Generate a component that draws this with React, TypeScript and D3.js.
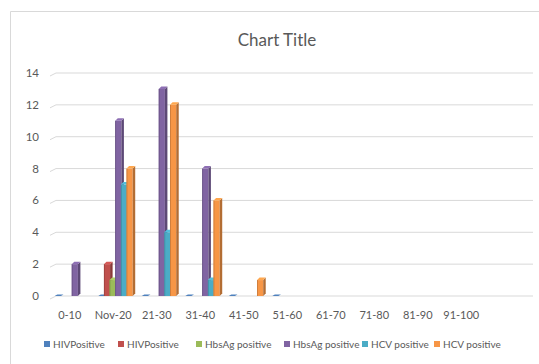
import React, { useEffect, useRef } from 'react';
import * as d3 from 'd3';

const categories = ['0-10', 'Nov-20', '21-30', '31-40', '41-50', '51-60', '61-70', '71-80', '81-90', '91-100'];
const seriesNames = ['HIVPositive', 'HIVPositive', 'HbsAg positive', 'HbsAg positive', 'HCV positive', 'HCV positive'];
const seriesColors = ['#4F81BD', '#C0504D', '#9BBB59', '#8064A2', '#4BACC6', '#F79646'];
const hivA = [0, 0, 0, 0, 0, 0, null, null, null, null];
const hivB = [null, 2, null, null, null, null, null, null, null, null];
const hbsA = [null, 1, null, null, null, null, null, null, null, null];
const hbsB = [2, 11, 13, 8, null, null, null, null, null, null];
const hcvA = [null, 7, 4, 1, null, null, null, null, null, null];
const hcvB = [null, 8, 12, 6, 1, null, null, null, null, null];
const yTicks = [0, 2, 4, 6, 8, 10, 12, 14];

const seriesValues = [hivA, hivB, hbsA, hbsB, hcvA, hcvB];

const App: React.FC = () => {
  const svgRef = useRef<SVGSVGElement>(null);

  useEffect(() => {
    document.body.style.margin = '0';
    if (!svgRef.current) return;
    const svg = d3.select(svgRef.current);
    svg.selectAll('*').remove();

    const width = 539;
    const height = 364;
    const font = 'Lato, "Open Sans", sans-serif';
    const textColor = '#595959';

    svg.append('rect')
      .attr('width', width).attr('height', height).attr('fill', '#fff');

    // chart frame (only left and top edges are visible)
    svg.append('path')
      .attr('d', `M10.5,${height} L10.5,11.5 L${width},11.5`)
      .attr('fill', 'none')
      .attr('stroke', '#d9d9d9');

    svg.append('text')
      .attr('x', 277).attr('y', 46)
      .attr('text-anchor', 'middle')
      .attr('font-family', font)
      .attr('font-size', 17)
      .attr('fill', textColor)
      .text('Chart Title');

    const x0 = d3.scaleBand<string>()
      .domain(categories)
      .range([48, 483])
      .paddingInner(0.22)
      .paddingOuter(0.11);

    const x1 = d3.scaleBand<number>()
      .domain(d3.range(seriesNames.length))
      .range([0, x0.bandwidth()]);

    const y = d3.scaleLinear().domain([0, 14]).range([296, 73]);

    // gridlines with a small 3D slant on the left
    svg.append('g')
      .selectAll('path')
      .data(yTicks)
      .join('path')
      .attr('d', d => `M50,${y(d) + 3} L56,${y(d)} L533,${y(d)}`)
      .attr('fill', 'none')
      .attr('stroke', '#d9d9d9')
      .attr('stroke-width', 1);

    svg.append('g')
      .selectAll('text')
      .data(yTicks)
      .join('text')
      .attr('x', 39)
      .attr('y', d => y(d) + 4)
      .attr('text-anchor', 'end')
      .attr('font-family', font)
      .attr('font-size', 11.5)
      .attr('fill', textColor)
      .text(d => d);

    const depth = 2.5;
    const bw = x1.bandwidth() + 0.5;
    const bars = svg.append('g');
    seriesValues.forEach((vals, si) => {
      const base = d3.color(seriesColors[si])!;
      const side = base.darker(0.9).formatHex();
      const top = base.brighter(0.3).formatHex();
      const edge = base.darker(0.6).formatHex();
      vals.forEach((v, ci) => {
        if (v === null) return;
        const bx = x0(categories[ci])! + x1(si)! + 2;
        const by = y(v);
        const y0 = y(0);
        if (v === 0) {
          bars.append('path')
            .attr('d', `M${bx},${y0} L${bx + bw},${y0} L${bx + bw + depth},${y0 - 1.5} L${bx + depth},${y0 - 1.5} Z`)
            .attr('fill', base.formatHex());
          return;
        }
        bars.append('rect')
          .attr('x', bx).attr('y', by)
          .attr('width', bw).attr('height', y0 - by)
          .attr('fill', base.formatHex());
        bars.append('rect')
          .attr('x', bx).attr('y', by)
          .attr('width', 0.8).attr('height', y0 - by)
          .attr('fill', edge);
        bars.append('path')
          .attr('d', `M${bx + bw},${by} L${bx + bw + depth},${by - depth} L${bx + bw + depth},${y0 - depth} L${bx + bw},${y0} Z`)
          .attr('fill', side);
        bars.append('path')
          .attr('d', `M${bx},${by} L${bx + bw},${by} L${bx + bw + depth},${by - depth} L${bx + depth},${by - depth} Z`)
          .attr('fill', top);
      });
    });

    svg.append('g')
      .selectAll('text')
      .data(categories)
      .join('text')
      .attr('x', d => x0(d)! + x0.bandwidth() / 2)
      .attr('y', 319)
      .attr('text-anchor', 'middle')
      .attr('font-family', font)
      .attr('font-size', 11)
      .attr('fill', textColor)
      .text(d => d);

    const legendX = [44, 118, 196, 284, 362, 434];
    const legend = svg.append('g')
      .selectAll('g')
      .data(seriesNames)
      .join('g')
      .attr('transform', (_, i) => `translate(${legendX[i]},345)`);
    legend.append('rect')
      .attr('x', 0).attr('y', -4)
      .attr('width', 6).attr('height', 6)
      .attr('fill', (_, i) => seriesColors[i]);
    legend.append('text')
      .attr('x', 9).attr('y', 3)
      .attr('font-family', font)
      .attr('font-size', 10)
      .attr('fill', textColor)
      .text(d => d);
  }, []);

  return <svg ref={svgRef} width={539} height={364} style={{ display: 'block' }}></svg>;
};

export default App;
